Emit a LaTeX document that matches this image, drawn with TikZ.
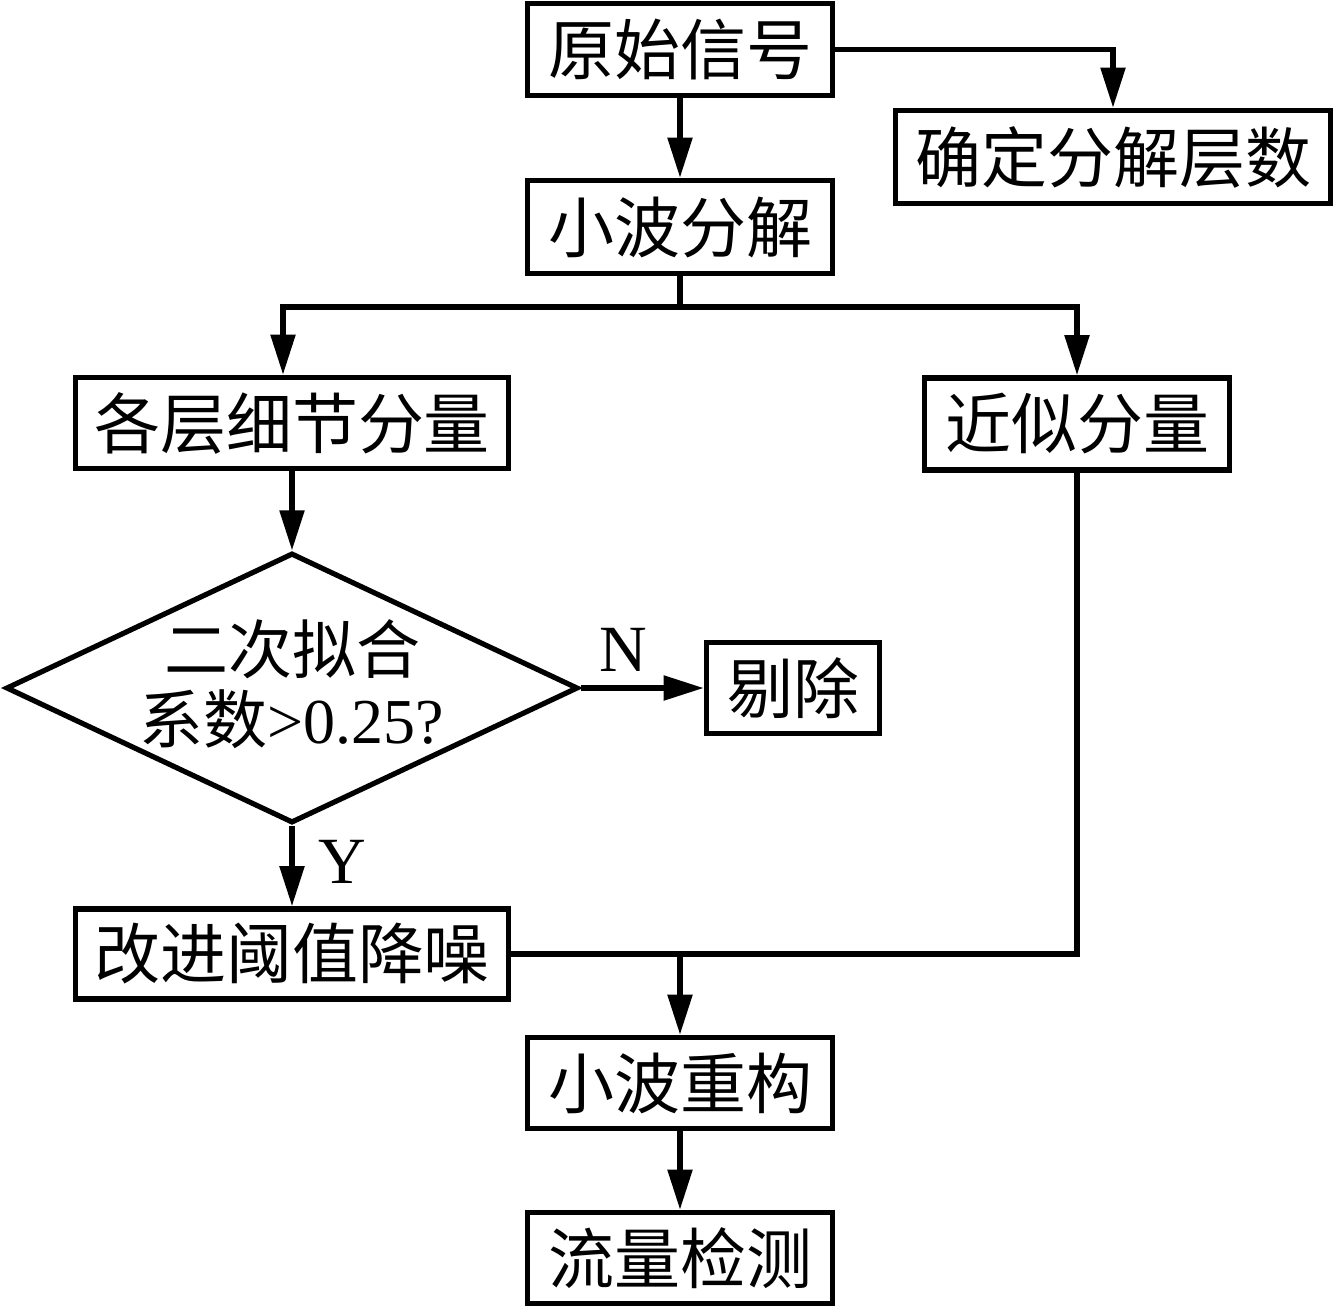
\documentclass[tikz,border=0pt]{standalone}
\usepackage{fontspec}
\setmainfont{Liberation Serif}
\newfontfamily\cjk{Noto Sans CJK SC}
\usetikzlibrary{arrows.meta,shapes.geometric,calc}
\begin{document}
\begin{tikzpicture}[x=0.5pt,y=-0.5pt,
  box/.style={draw, line width=2.8pt, inner sep=0pt, font=\cjk\fontsize{33}{38}\selectfont},
  conn/.style={line width=2.6pt},
  arr/.style={conn, -{Triangle[length=20pt,width=12pt]}},
  lab/.style={inner sep=0pt, font=\fontsize{33}{36}\selectfont},
  decision/.style={draw, shape=diamond, line width=2.6pt, inner sep=0pt}
]
\useasboundingbox[fill=white] (0,0) rectangle (1334,1308);

\node[box, minimum width=152.5pt, minimum height=46pt] (orig) at (680,49.5) {原始信号};
\node[box, minimum width=217.5pt, minimum height=46.5pt] (layers) at (1113,157) {确定分解层数};
\node[box, minimum width=152.5pt, minimum height=46.5pt] (decomp) at (680,227) {小波分解};
\node[box, minimum width=216.5pt, minimum height=45.5pt] (detail) at (292,423) {各层细节分量};
\node[box, minimum width=152.5pt, minimum height=46pt] (approx) at (1077,424) {近似分量};
\node[decision, minimum width=286pt, minimum height=135pt] (dec) at (292,688) {};
\node[align=center, inner sep=0pt, font=\fontsize{32}{35}\selectfont] (dectext) at (292,684) {{\cjk 二次拟合}\\{\cjk 系数}>0.25?};
\node[box, minimum width=86.5pt, minimum height=45.5pt] (remove) at (793,688) {剔除};
\node[box, minimum width=216.5pt, minimum height=45pt] (denoise) at (292,954) {改进阈值降噪};
\node[box, minimum width=152.5pt, minimum height=45.5pt] (recon) at (680,1083) {小波重构};
\node[box, minimum width=152.5pt, minimum height=45.5pt] (detect) at (680,1258) {流量检测};

\coordinate (split) at (680,307);
\coordinate (merge) at (680,954);

\draw[arr] (orig) -- (decomp);
\draw[arr] (orig.east) -| (layers.north);
\draw[conn] (decomp.south) -- (split);
\draw[arr] (split) -| ($(detail.north)+(-9,0)$);
\draw[arr] (split) -| (approx.north);
\draw[arr] (detail) -- (dec.north);
\draw[arr] (dec.east) -- node[lab, pos=0.35, above=7pt] (nlab) {N} (remove.west);
\draw[arr] (dec.south) -- node[lab, pos=0.45, right=12pt] (ylab) {Y} (denoise.north);
\draw[conn] (denoise.east) -| (approx.south);
\draw[arr] (merge) -- (recon.north);
\draw[arr] (recon) -- (detect);
\end{tikzpicture}
\end{document}
